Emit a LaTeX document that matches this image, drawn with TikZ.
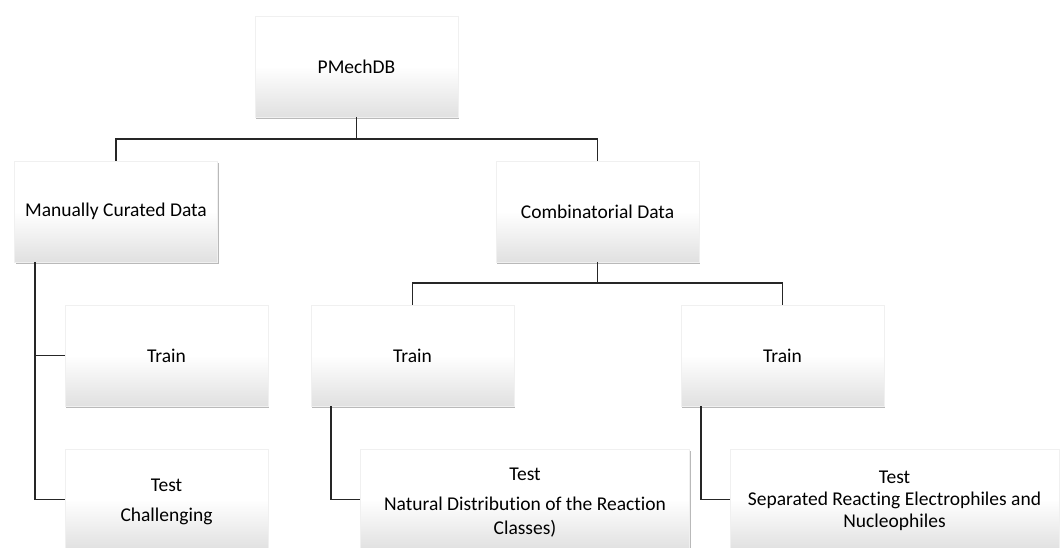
\documentclass[tikz,border=0pt]{standalone}
\usepackage{fontspec}
\setmainfont{Carlito}[Ligatures=NoCommon]
\usetikzlibrary{shadows,calc}
\begin{document}
\begin{tikzpicture}[x=1pt,y=1pt,
  box/.style={draw=black!6, line width=0.5pt, top color=white, bottom color=black!12, middle color=white,
    minimum width=203pt, minimum height=101pt, inner sep=0pt,
    drop shadow={shadow xshift=1.2pt, shadow yshift=-2pt, opacity=0.55}},
  widebox/.style={box, minimum width=329pt},
  lbl/.style={font=\fontsize{19.5}{22}\selectfont, align=center, inner sep=0pt, text=black},
  conn/.style={draw=black!85, line width=1.7pt}]
\useasboundingbox (0,0) rectangle (1062,548);
\clip (0,0) rectangle (1062,548);
% boxes
\node[box] (pm) at (356.5,481.5) {};
\node[lbl] (pmt) at (pm.center) {PMechDB};
\node[box] (man) at (116,336.5) {};
\node[lbl] (mant) at (man.center) {Manually Curated Data};
\node[box] (comb) at (597.5,336.5) {};
\node[lbl] (combt) at (comb.center) {Combinatorial Data};
\node[box] (trl) at (166.5,192.5) {};
\node[lbl] (trlt) at (trl.center) {Train};
\node[box] (trm) at (412.5,192.5) {};
\node[lbl] (trmt) at (trm.center) {Train};
\node[box] (trr) at (782.5,192.5) {};
\node[lbl] (trrt) at (trr.center) {Train};
\node[box] (tel) at (166.5,48.5) {};
\node[lbl] (telt) at (166.5,46) {Test\\[8pt]Challenging};
\node[widebox] (tem) at (525,48.5) {};
\node[lbl] (temt) at (525,45) {Test\\[8pt]Natural Distribution of the Reaction\\[2pt]Classes)};
\node[widebox] (ter) at (894.5,48.5) {};
\node[lbl] (tert) at (894.5,47) {Test\\Separated Reacting Electrophiles and\\Nucleophiles};
% connectors
\draw[conn] (pm.south) -- ++(0,-22) coordinate (pmj) -| (man.north);
\draw[conn] (pmj) -| (comb.north);
\draw[conn] (comb.south) -- ++(0,-21) coordinate (cj) -| (trm.north);
\draw[conn] (cj) -| (trr.north);
\coordinate (manl) at ($(man.south west)+(21,0)$);
\draw[conn] (manl) |- (tel.west);
\draw[conn] (manl) |- (trl.west);
\coordinate (trml) at ($(trm.south west)+(20,0)$);
\draw[conn] (trml) |- (tem.west);
\coordinate (trrl) at ($(trr.south west)+(20,0)$);
\draw[conn] (trrl) |- (ter.west);
\end{tikzpicture}
\end{document}
